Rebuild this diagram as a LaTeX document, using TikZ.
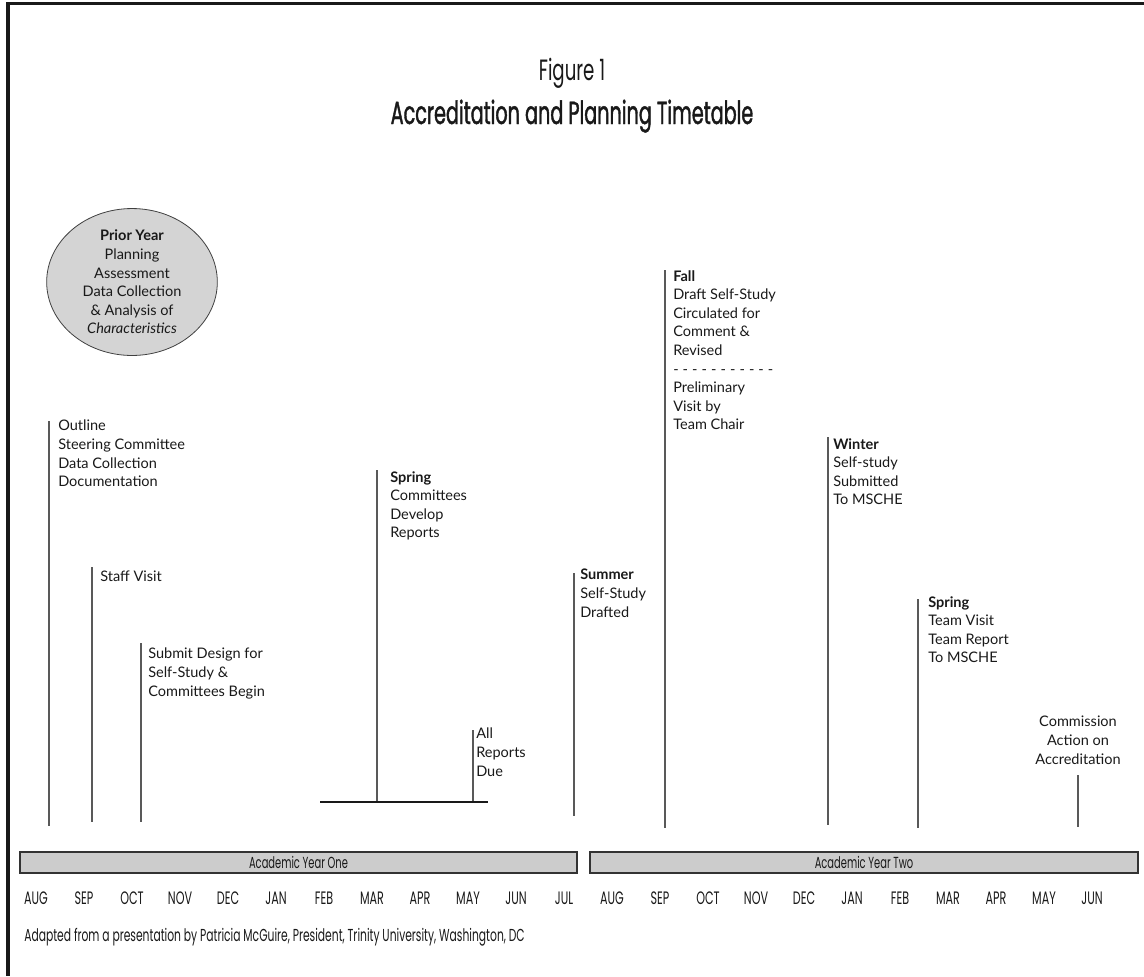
\documentclass[tikz,border=0pt]{standalone}
\usepackage{fontspec}
\setmainfont{Lato}
\newfontfamily\condfont[FakeStretch=0.62]{Poppins}
\newfontfamily\headfont[FakeStretch=0.6,FakeBold=1.2]{Poppins}
\usetikzlibrary{shapes.geometric}

\begin{document}
\begin{tikzpicture}[x=0.75pt,y=-0.75pt,
    every node/.style={inner sep=0pt, text=black!90},
    evt/.style={anchor=north west, align=left, font=\fontsize{10.9}{13.95}\selectfont,
      execute at begin node=\strut},
    tick/.style={draw=black!65, line width=0.9pt},
    yearbar/.style={draw=black!80, fill=black!20, line width=0.8pt},
    month/.style={font=\condfont\fontsize{13.5}{13.5}\selectfont, anchor=base}]
  \useasboundingbox (0,0) rectangle (1144,976);
  % frame, top and left only
  \draw[line width=2.3pt, black!90] (1144,3.5) -- (8,3.5) -- (8,976);

  % headings
  \node[anchor=base] (fig) at (572,80) {\condfont\fontsize{22}{22}\selectfont Figure 1};
  \node[anchor=base] (title) at (572,124) {\headfont\fontsize{24}{24}\selectfont Accreditation and Planning Timetable};

  % prior year
  \node[ellipse, draw=black!75, fill=black!17, line width=0.6pt,
    minimum width=128pt, minimum height=110pt, align=center,
    font=\fontsize{10.9}{13.95}\selectfont] (prior) at (132,282)
    {\textbf{Prior Year}\\Planning\\Assessment\\Data Collection\\\& Analysis of\\\textit{Characteristics}};

  % year one
  \node[evt] (outline) at (58,420) {Outline\\Steering Committee\\Data Collection\\Documentation};
  \coordinate (outlineT) at (49,421); \coordinate (outlineB) at (49,826);
  \draw[tick] (outlineT) -- (outlineB);

  \node[evt] (staff) at (100,568) {Staff Visit};
  \coordinate (staffT) at (92,567); \coordinate (staffB) at (92,822);
  \draw[tick] (staffT) -- (staffB);

  \node[evt] (design) at (148,648) {Submit Design for\\Self-Study \&\\Committees Begin};
  \coordinate (designT) at (141,643); \coordinate (designB) at (141,822);
  \draw[tick] (designT) -- (designB);

  \node[evt] (spring1) at (390,471) {\textbf{Spring}\\Committees\\Develop\\Reports};
  \coordinate (spring1T) at (377,470); \coordinate (spring1B) at (377,802);
  \draw[tick] (spring1T) -- (spring1B);

  \node[evt] (due) at (476,728) {All\\Reports\\Due};
  \coordinate (dueT) at (473,730); \coordinate (dueB) at (473,802);
  \draw[tick] (dueT) -- (dueB);
  \coordinate (spanL) at (320,802); \coordinate (spanR) at (488,802);
  \draw[black!90, line width=0.8pt] (spanL) -- (spanR);

  \node[evt] (summer) at (580,569) {\textbf{Summer}\\Self-Study\\Drafted};
  \coordinate (summerT) at (574,573); \coordinate (summerB) at (574,816);
  \draw[tick] (summerT) -- (summerB);

  % year two
  \node[evt] (fall) at (673,270) {\textbf{Fall}\\Draft Self-Study\\Circulated for\\Comment \&\\Revised\\
    \makebox[75pt][s]{- - - - - - - - - - -}\\Preliminary\\Visit by\\Team Chair};
  \coordinate (fallT) at (665,270); \coordinate (fallB) at (665,828);
  \draw[tick] (fallT) -- (fallB);

  \node[evt] (winter) at (833,438) {\textbf{Winter}\\Self-study\\Submitted\\To MSCHE};
  \coordinate (winterT) at (828,437); \coordinate (winterB) at (828,825);
  \draw[tick] (winterT) -- (winterB);

  \node[evt] (spring2) at (928,596) {\textbf{Spring}\\Team Visit\\Team Report\\To MSCHE};
  \coordinate (spring2T) at (918,599); \coordinate (spring2B) at (918,828);
  \draw[tick] (spring2T) -- (spring2B);

  \node[evt, anchor=north, align=center] (action) at (1078,716) {Commission\\Action on\\Accreditation};
  \coordinate (actionT) at (1078,775); \coordinate (actionB) at (1078,827);
  \draw[tick] (actionT) -- (actionB);

  % academic years
  \draw[yearbar] (20,852) rectangle (577,873);
  \node[font=\condfont\fontsize{12}{12}\selectfont] (yr1) at (298.5,862.5) {Academic Year One};
  \draw[yearbar] (590,852) rectangle (1138,873);
  \node[font=\condfont\fontsize{12}{12}\selectfont] (yr2) at (864,862.5) {Academic Year Two};

  \foreach \m [count=\i from 0] in {AUG,SEP,OCT,NOV,DEC,JAN,FEB,MAR,APR,MAY,JUN,JUL,
      AUG,SEP,OCT,NOV,DEC,JAN,FEB,MAR,APR,MAY,JUN}
    \node[month] (m\i) at (36+48*\i,904) {\m};

  \node[anchor=base west, font=\condfont\fontsize{13}{13}\selectfont] (src) at (24,941)
    {Adapted from a presentation by Patricia McGuire, President, Trinity University, Washington, DC};
\end{tikzpicture}
\end{document}
